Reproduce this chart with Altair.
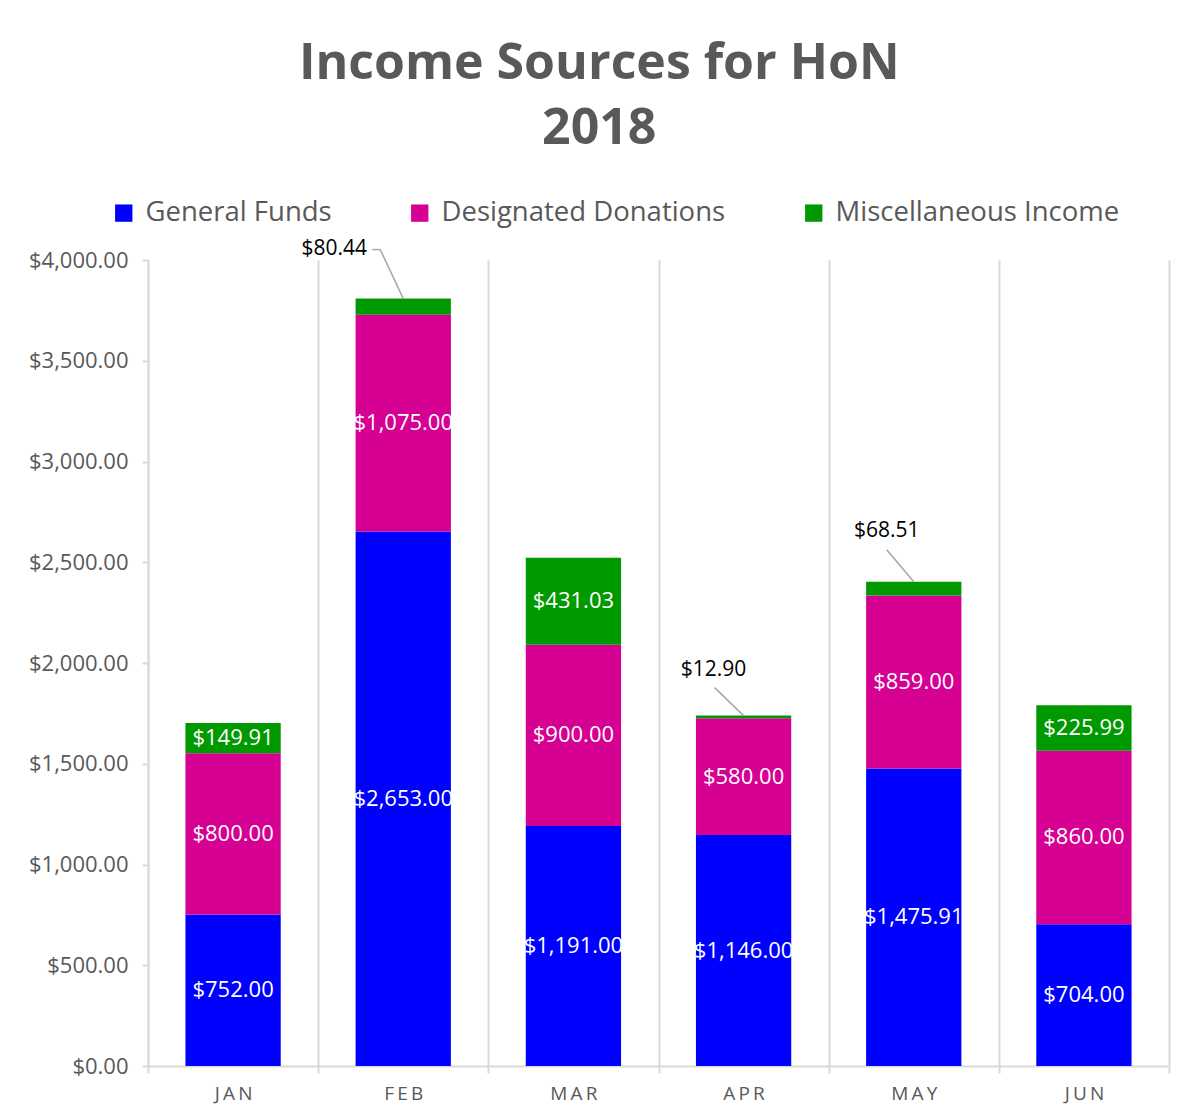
import altair as alt
import pandas as pd

months = ["JAN", "FEB", "MAR", "APR", "MAY", "JUN"]
general = [752.00, 2653.00, 1191.00, 1146.00, 1475.91, 704.00]
designated = [800.00, 1075.00, 900.00, 580.00, 859.00, 860.00]
misc = [149.91, 80.44, 431.03, 12.90, 68.51, 225.99]
series_names = ["General Funds", "Designated Donations", "Miscellaneous Income"]
series_colors = ["#0000FF", "#D60093", "#009900"]
callout_months = ["FEB", "APR", "MAY"]

# style: per-callout pixel offsets (label dx, dy; leader end dx, dy)
callout_style = {
    "FEB": dict(dx=-69, dy=-50, lx=-23, ly=-49, hook=-8),
    "APR": dict(dx=-30, dy=-46, lx=-29, ly=-28, hook=0),
    "MAY": dict(dx=-27, dy=-51, lx=-27, ly=-32, hook=0),
}

rows = []
for i, m in enumerate(months):
    base_v = 0.0
    for s, vals in zip(series_names, [general, designated, misc]):
        v = vals[i]
        rows.append(dict(month=m, series=s, value=v, y0=base_v, y1=base_v + v,
                         mid=base_v + v / 2,
                         inside=not (s == "Miscellaneous Income" and m in callout_months)))
        base_v += v
df = pd.DataFrame(rows)

FONT = "Open Sans"
GREY = "#595959"
LINE = "#D9D9D9"

x_enc = alt.X("month:N", sort=months, title=None,
              scale=alt.Scale(paddingInner=0, paddingOuter=0),
              axis=alt.Axis(tickBand="extent", grid=True, gridColor=LINE, gridWidth=2,
                            domainColor=LINE, domainWidth=2, tickColor=LINE, tickWidth=2,
                            tickSize=7, labelFont=FONT, labelFontSize=19, labelColor=GREY,
                            labelPadding=11, labelAngle=0,
                            labelExpr="join(split(datum.label, ''), '\u2009')"))

y_scale = alt.Scale(domain=[0, 4000])

bars = alt.Chart(df).mark_bar(width=alt.RelativeBandSize(0.56)).encode(
    x=x_enc,
    y=alt.Y("y1:Q", scale=y_scale, title=None,
            axis=alt.Axis(values=list(range(0, 4001, 500)), format="$,.2f", grid=False,
                          domainColor=LINE, domainWidth=2, tickColor=LINE, tickWidth=2,
                          tickSize=6, labelFont=FONT, labelFontSize=22, labelColor=GREY,
                          labelPadding=14)),
    y2="y0:Q",
    color=alt.Color("series:N", scale=alt.Scale(domain=series_names, range=series_colors),
                    legend=alt.Legend(title=None, orient="none", direction="horizontal",
                                      legendX=-38, legendY=-61, symbolType="square",
                                      symbolSize=300, symbolStrokeWidth=0,
                                      labelFont=FONT, labelFontSize=27.5, labelColor=GREY,
                                      labelOffset=8, columnPadding=74, labelLimit=400)),
)

inside = alt.Chart(df).transform_filter("datum.inside").mark_text(
    color="white", font=FONT, fontSize=22).encode(
    x=alt.X("month:N", sort=months),
    y=alt.Y("mid:Q", scale=y_scale),
    text=alt.Text("value:Q", format="$,.2f"),
)

layers = [bars, inside]
cdf = df[~df["inside"]]
for m in callout_months:
    st = callout_style[m]
    sub = cdf[cdf["month"] == m]
    layers.append(alt.Chart(sub).mark_text(color="black", font=FONT, fontSize=21,
                                           dx=st["dx"], dy=st["dy"]).encode(
        x=alt.X("month:N", sort=months),
        y=alt.Y("y1:Q", scale=y_scale),
        text=alt.Text("value:Q", format="$,.2f")))
    layers.append(alt.Chart(sub).mark_rule(color="#A6A6A6", strokeWidth=1.5,
                                           x2Offset=st["lx"], y2Offset=st["ly"]).encode(
        x=alt.X("month:N", sort=months, bandPosition=0.5),
        x2=alt.X2("month"),
        y=alt.Y("y1:Q", scale=y_scale),
        y2=alt.Y2("y1:Q")))
    if st["hook"]:
        layers.append(alt.Chart(sub).mark_rule(color="#A6A6A6", strokeWidth=1.5,
                                               xOffset=st["lx"], yOffset=st["ly"],
                                               x2Offset=st["lx"] + st["hook"],
                                               y2Offset=st["ly"]).encode(
            x=alt.X("month:N", sort=months, bandPosition=0.5),
            x2=alt.X2("month"),
            y=alt.Y("y1:Q", scale=y_scale),
            y2=alt.Y2("y1:Q")))

chart = alt.layer(*layers).properties(
    width=1021, height=806,
    title=alt.TitleParams(["Income Sources for HoN", "2018"], font=FONT, fontSize=50,
                          fontWeight="bold", color=GREY, anchor="middle", frame="bounds",
                          lineHeight=65, offset=36, dy=-9),
    autosize=alt.AutoSizeParams(type="none"),
    padding={"left": 140, "top": 252, "right": 5, "bottom": 46},
).configure_view(strokeWidth=0)

chart.save("out.html", embed_options={"renderer": "svg", "actions": False})
